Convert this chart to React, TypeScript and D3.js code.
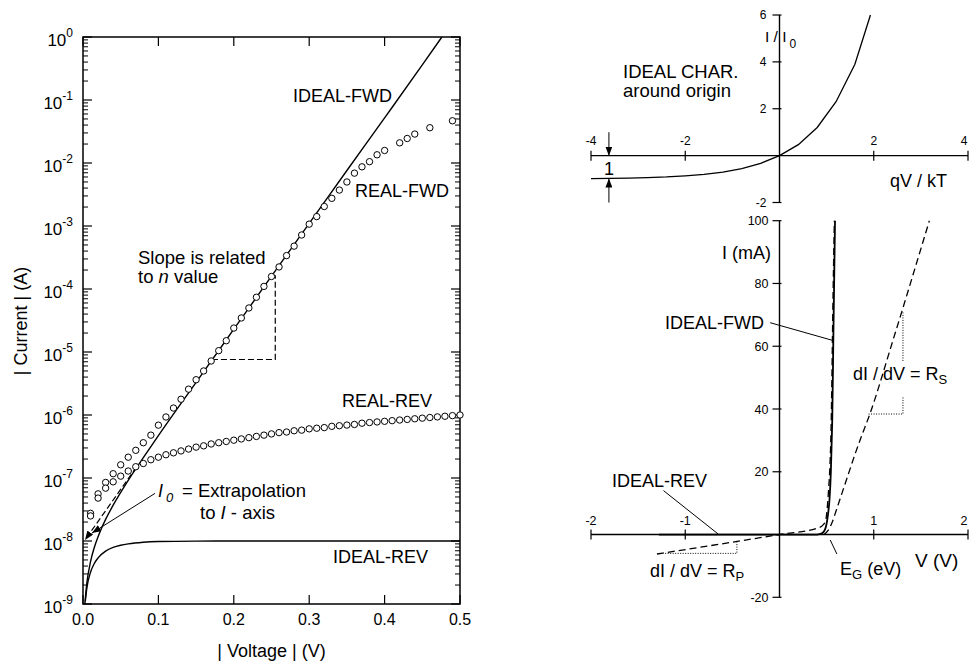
import React from 'react';
import * as d3 from 'd3';

// ---------- left panel: |Current| vs |Voltage| (log) ----------
const idealFwdV = [0.0025, 0.005, 0.01, 0.015, 0.02, 0.03, 0.04, 0.06, 0.08, 0.1, 0.15, 0.2, 0.25, 0.3, 0.35, 0.4, 0.45, 0.476];
const idealFwdI = [1.0e-9, 2.1e-9, 4.7e-9, 7.9e-9, 1.17e-8, 2.2e-8, 3.7e-8, 9.2e-8, 2.1e-7, 4.7e-7, 3.3e-6, 2.3e-5, 1.6e-4, 1.1e-3, 7.6e-3, 5.2e-2, 0.36, 1.0];

const idealRevV = [0.003, 0.005, 0.01, 0.015, 0.02, 0.03, 0.04, 0.05, 0.06, 0.08, 0.1, 0.15, 0.2, 0.3, 0.4, 0.5];
const idealRevI = [1.1e-9, 1.76e-9, 3.2e-9, 4.4e-9, 5.4e-9, 6.9e-9, 7.9e-9, 8.55e-9, 9.0e-9, 9.55e-9, 9.8e-9, 9.97e-9, 1e-8, 1e-8, 1e-8, 1e-8];

const realFwdV = [0.01, 0.02, 0.03, 0.04, 0.05, 0.06, 0.07, 0.08, 0.09, 0.10,
  0.11, 0.12, 0.13, 0.14, 0.15, 0.16, 0.17, 0.18, 0.19, 0.20,
  0.21, 0.22, 0.23, 0.24, 0.25, 0.26, 0.27, 0.28, 0.29, 0.30,
  0.31, 0.32, 0.33, 0.34, 0.35, 0.36, 0.37, 0.38, 0.39, 0.40,
  0.42, 0.43, 0.44, 0.46, 0.49];
const realFwdI = [2.75e-8, 5.6e-8, 8.5e-8, 1.17e-7, 1.62e-7, 2.14e-7, 2.75e-7, 3.63e-7, 4.79e-7, 6.9e-7,
  9.3e-7, 1.29e-6, 1.78e-6, 2.57e-6, 3.63e-6, 5.0e-6, 7.2e-6, 1.05e-5, 1.51e-5, 2.4e-5,
  3.47e-5, 5.0e-5, 7.4e-5, 1.1e-4, 1.58e-4, 2.24e-4, 3.39e-4, 4.79e-4, 7.2e-4, 1.07e-3,
  1.41e-3, 2.04e-3, 2.75e-3, 3.72e-3, 5.0e-3, 6.9e-3, 8.7e-3, 1.05e-2, 1.35e-2, 1.58e-2,
  2.09e-2, 2.45e-2, 2.88e-2, 3.63e-2, 4.68e-2];

const realRevV = [0.01, 0.02, 0.03, 0.04, 0.05, 0.06, 0.07, 0.08, 0.09, 0.10,
  0.11, 0.12, 0.13, 0.14, 0.15, 0.16, 0.17, 0.18, 0.19, 0.20,
  0.21, 0.22, 0.23, 0.24, 0.25, 0.26, 0.27, 0.28, 0.29, 0.30,
  0.31, 0.32, 0.33, 0.34, 0.35, 0.36, 0.37, 0.38, 0.39, 0.40,
  0.41, 0.42, 0.43, 0.44, 0.45, 0.46, 0.47, 0.48, 0.49, 0.50];
const realRevI = [2.5e-8, 4.8e-8, 6.9e-8, 8.7e-8, 1.07e-7, 1.29e-7, 1.51e-7, 1.7e-7, 1.95e-7, 2.14e-7,
  2.34e-7, 2.51e-7, 2.69e-7, 2.88e-7, 3.09e-7, 3.24e-7, 3.47e-7, 3.63e-7, 3.8e-7, 3.98e-7,
  4.17e-7, 4.37e-7, 4.57e-7, 4.79e-7, 5.01e-7, 5.25e-7, 5.37e-7, 5.62e-7, 5.75e-7, 6.03e-7,
  6.17e-7, 6.31e-7, 6.61e-7, 6.76e-7, 6.92e-7, 7.08e-7, 7.41e-7, 7.59e-7, 7.76e-7, 7.94e-7,
  8.13e-7, 8.32e-7, 8.51e-7, 8.71e-7, 8.91e-7, 9.12e-7, 9.33e-7, 9.55e-7, 9.77e-7, 1.0e-6];

const slopeTriangle = [[0.171, 7.6e-6], [0.255, 7.6e-6], [0.255, 1.66e-4]];
const extrapLine = [[0.071, 1.5e-7], [0.0027, 1.04e-8]];
const i0Leader = [[0.0955, 5.7e-8], [0.012, 1.34e-8]];

// ---------- top right: ideal characteristic around origin ----------
const charX = [-4, -3.6, -3.2, -2.8, -2.4, -2.0, -1.6, -1.2, -0.8, -0.4, 0, 0.4, 0.8, 1.2, 1.6, 1.93];
const charY = [-0.98, -0.97, -0.96, -0.94, -0.91, -0.86, -0.8, -0.7, -0.55, -0.33, 0, 0.47, 1.2, 2.3, 3.9, 6.0];
const topXTicks = [-4, -2, 2, 4];
const topYTicks = [-2, 2, 4, 6];
const unitArrowX = -3.62;
const unitArrows = [[1.0, 0], [-2.0, -0.98]];

// ---------- bottom right: linear I (mA) vs V (V) ----------
const idealLinV = [-1.28, 0.40, 0.45, 0.48, 0.50, 0.515, 0.53, 0.545, 0.554, 0.560, 0.571, 0.589];
const idealLinI = [0, 0, 0.4, 1.4, 3.5, 6.5, 11, 20, 30, 37, 62, 100];
const shuntV = [-1.30, 0, 0.40, 0.46, 0.49, 0.505, 0.52, 0.535, 0.548, 0.556, 0.565, 0.582];
const shuntI = [-6.2, 0, 2.0, 3.0, 4.5, 8, 14, 22, 35, 50, 70, 100];
const seriesV = [0.47, 0.52, 0.56, 0.60, 0.65, 0.70, 0.75, 0.80, 0.86, 0.96, 1.2, 1.59];
const seriesI = [0, 1.5, 4, 7.5, 12, 16.5, 21, 25.5, 30.5, 38.5, 61.5, 100];
const botXTicks = [-2, -1, 1, 2];
const botYTicks = [-20, 20, 40, 60, 80, 100];
const rsTriangle = [[0.945, 38.4], [1.31, 38.4], [1.31, 71]];
const rpTriangle = [[-1.213, -6.0], [-0.452, -6.0], [-0.452, -2.4]];
const fwdLeader = [[-0.099, 67.5], [0.571, 61.8]];
const revLeader = [[-1.231, 14.0], [-0.648, 0.1]];
const egLeader = [[0.538, -1.75], [0.609, -6.2]];

const FONT = '"Liberation Sans", Arial, Helvetica, sans-serif';

const App = () => {
  // left panel scales
  const xL = d3.scaleLinear().domain([0, 0.5]).range([83, 460]);
  const yL = d3.scaleLog().domain([1e-9, 1]).range([604, 37]);
  const lineL = d3.line<number[]>().x(d => xL(d[0])).y(d => yL(d[1]));
  const curveL = d3.line<number[]>().x(d => xL(d[0])).y(d => yL(d[1])).curve(d3.curveMonotoneX);

  const decades = d3.range(-9, 1).map(e => Math.pow(10, e));
  const minors = d3.range(-9, 0).flatMap(e => d3.range(2, 10).map(m => m * Math.pow(10, e)));
  const xTicksL = xL.ticks(5);

  // top right scales
  const xT = d3.scaleLinear().domain([-4, 4]).range([591, 968]);
  const yT = d3.scaleLinear().domain([-2, 6]).range([202.5, 15]);
  const lineT = d3.line<number[]>().x(d => xT(d[0])).y(d => yT(d[1]));

  // bottom right scales
  const xB = d3.scaleLinear().domain([-2, 2]).range([591, 968]);
  const yB = d3.scaleLinear().domain([-20, 100]).range([597.3, 220.7]);
  const lineB = d3.line<number[]>().x(d => xB(d[0])).y(d => yB(d[1]));
  const curveB = d3.line<number[]>().x(d => xB(d[0])).y(d => yB(d[1])).curve(d3.curveMonotoneX);

  // keep the edge tick labels inside the window
  const edgeX = (x: number) => Math.min(x, 964);

  const big = 18;
  return (
    <svg width={969} height={664} style={{ position: 'absolute', left: 0, top: 0, background: '#fff' }}
      fontFamily={FONT}>
      <defs>
        <marker id="arr" viewBox="0 0 9 7" refX="9" refY="3.5" markerWidth="9" markerHeight="7"
          markerUnits="userSpaceOnUse" orient="auto">
          <path d="M0,0 L9,3.5 L0,7 z" fill="#000" />
        </marker>
      </defs>

      {/* ===== left panel ===== */}
      <g>
        <rect x={xL(0)} y={yL(1)} width={xL(0.5) - xL(0)} height={yL(1e-9) - yL(1)}
          fill="none" stroke="#000" strokeWidth={1.5} />
        {decades.map(d => (
          <g key={'d' + d}>
            <line x1={xL(0)} x2={xL(0) + 9} y1={yL(d)} y2={yL(d)} stroke="#000" strokeWidth={1.2} />
            <line x1={xL(0.5)} x2={xL(0.5) - 9} y1={yL(d)} y2={yL(d)} stroke="#000" strokeWidth={1.2} />
            <text x={73} y={yL(d) + 9} textAnchor="end" fontSize={17}>10
              <tspan dy={-9} fontSize={12}>{Math.round(Math.log10(d))}</tspan>
            </text>
          </g>
        ))}
        {minors.map(d => (
          <g key={'m' + d}>
            <line x1={xL(0)} x2={xL(0) + 5} y1={yL(d)} y2={yL(d)} stroke="#000" strokeWidth={1} />
            <line x1={xL(0.5)} x2={xL(0.5) - 5} y1={yL(d)} y2={yL(d)} stroke="#000" strokeWidth={1} />
          </g>
        ))}
        {xTicksL.map(t => (
          <g key={'x' + t}>
            <line x1={xL(t)} x2={xL(t)} y1={yL(1e-9)} y2={yL(1e-9) - 9} stroke="#000" strokeWidth={1.2} />
            <line x1={xL(t)} x2={xL(t)} y1={yL(1)} y2={yL(1) + 9} stroke="#000" strokeWidth={1.2} />
            <text x={xL(t)} y={625} textAnchor="middle" fontSize={16}>{d3.format('.1f')(t)}</text>
          </g>
        ))}
        <text x={271.5} y={657} textAnchor="middle" fontSize={big}>| Voltage | (V)</text>
        <text transform="translate(27,321) rotate(-90)" textAnchor="middle" fontSize={big}>| Current | (A)</text>

        <path d={curveL(d3.zip(idealFwdV, idealFwdI)) || ''} fill="none" stroke="#000" strokeWidth={1.4} />
        <path d={curveL(d3.zip(idealRevV, idealRevI)) || ''} fill="none" stroke="#000" strokeWidth={1.4} />
        <path d={lineL(slopeTriangle) || ''} fill="none" stroke="#000" strokeWidth={1.2} strokeDasharray="6,3" />
        <path d={lineL(extrapLine) || ''} fill="none" stroke="#000" strokeWidth={1.2} strokeDasharray="6,3"
          markerEnd="url(#arr)" />
        <path d={lineL(i0Leader) || ''} fill="none" stroke="#000" strokeWidth={1} markerEnd="url(#arr)" />
        {d3.zip(realFwdV, realFwdI).map((d, i) => (
          <circle key={'f' + i} cx={xL(d[0])} cy={yL(d[1])} r={3.2} fill="#fff" stroke="#000" strokeWidth={1} />
        ))}
        {d3.zip(realRevV, realRevI).map((d, i) => (
          <circle key={'r' + i} cx={xL(d[0])} cy={yL(d[1])} r={3.2} fill="#fff" stroke="#000" strokeWidth={1} />
        ))}

        <text x={293} y={102} fontSize={big}>IDEAL-FWD</text>
        <text x={355} y={197} fontSize={big}>REAL-FWD</text>
        <text x={138} y={264} fontSize={18.5}>Slope is related</text>
        <text x={138} y={283} fontSize={18.5}>to <tspan fontStyle="italic">n</tspan> value</text>
        <text x={342} y={407} fontSize={big}>REAL-REV</text>
        <text x={158} y={497} fontSize={big} fontStyle="italic">I<tspan dx={3} dy={5} fontSize={13}>0</tspan></text>
        <text x={182} y={497} fontSize={18.5}>= Extrapolation</text>
        <text x={200} y={519} fontSize={18.5}>to <tspan fontStyle="italic">I</tspan> - axis</text>
        <text x={333} y={563} fontSize={big}>IDEAL-REV</text>
      </g>

      {/* ===== top right panel ===== */}
      <g>
        <line x1={xT(-4)} x2={xT(4)} y1={yT(0)} y2={yT(0)} stroke="#000" strokeWidth={1.4} />
        <line x1={xT(0)} x2={xT(0)} y1={yT(6)} y2={yT(-2)} stroke="#000" strokeWidth={1.4} />
        {topXTicks.map(t => (
          <g key={'tx' + t}>
            <line x1={xT(t)} x2={xT(t)} y1={yT(0) - 5} y2={yT(0) + 5} stroke="#000" strokeWidth={1.2} />
            <text x={edgeX(xT(t))} y={yT(0) - 11} textAnchor="middle" fontSize={12}>{t}</text>
          </g>
        ))}
        {topYTicks.map(t => (
          <g key={'ty' + t}>
            <line x1={xT(0) - 7} x2={xT(0) + 2} y1={yT(t)} y2={yT(t)} stroke="#000" strokeWidth={1.2} />
            <text x={xT(0) - 13} y={yT(t) + 4} textAnchor="end" fontSize={12}>{t}</text>
          </g>
        ))}
        <path d={lineT(d3.zip(charX, charY)) || ''} fill="none" stroke="#000" strokeWidth={1.3} />
        {unitArrows.map((a, i) => (
          <line key={'ua' + i} x1={xT(unitArrowX)} x2={xT(unitArrowX)} y1={yT(a[0])} y2={yT(a[1])}
            stroke="#000" strokeWidth={1} markerEnd="url(#arr)" />
        ))}
        <text x={xT(unitArrowX)} y={175} textAnchor="middle" fontSize={big}>1</text>
        <text x={765} y={42} fontSize={15.5}>I / I<tspan dx={3} dy={6} fontSize={12}>0</tspan></text>
        <text x={623} y={78} fontSize={18.5}>IDEAL CHAR.</text>
        <text x={623} y={97} fontSize={18.5}>around origin</text>
        <text x={890} y={187} fontSize={big}>qV / kT</text>
      </g>

      {/* ===== bottom right panel ===== */}
      <g>
        <line x1={xB(-2)} x2={xB(2)} y1={yB(0)} y2={yB(0)} stroke="#000" strokeWidth={1.4} />
        <line x1={xB(0)} x2={xB(0)} y1={yB(100)} y2={yB(-20)} stroke="#000" strokeWidth={1.4} />
        {botXTicks.map(t => (
          <g key={'bx' + t}>
            <line x1={xB(t)} x2={xB(t)} y1={yB(0) - 5} y2={yB(0) + 5} stroke="#000" strokeWidth={1.2} />
            <text x={edgeX(xB(t))} y={yB(0) - 10} textAnchor="middle" fontSize={12.5}>{t}</text>
          </g>
        ))}
        {botYTicks.map(t => (
          <g key={'by' + t}>
            <line x1={xB(0) - 7} x2={xB(0) + 2} y1={yB(t)} y2={yB(t)} stroke="#000" strokeWidth={1.2} />
            <text x={xB(0) - 11} y={yB(t) + 4.5} textAnchor="end" fontSize={12.5}>{t}</text>
          </g>
        ))}
        <path d={lineB(rsTriangle) || ''} fill="none" stroke="#000" strokeWidth={1} strokeDasharray="1,1.5" />
        <path d={lineB(rpTriangle) || ''} fill="none" stroke="#000" strokeWidth={1} strokeDasharray="1,1.5" />
        <path d={curveB(d3.zip(shuntV, shuntI)) || ''} fill="none" stroke="#000" strokeWidth={1.3} strokeDasharray="7,4" />
        <path d={curveB(d3.zip(seriesV, seriesI)) || ''} fill="none" stroke="#000" strokeWidth={1.3} strokeDasharray="7,4" />
        <path d={curveB(d3.zip(idealLinV, idealLinI)) || ''} fill="none" stroke="#000" strokeWidth={1.8} />
        <path d={lineB(fwdLeader) || ''} fill="none" stroke="#000" strokeWidth={1} />
        <path d={lineB(revLeader) || ''} fill="none" stroke="#000" strokeWidth={1} />
        <path d={lineB(egLeader) || ''} fill="none" stroke="#000" strokeWidth={1} />

        <text x={722} y={259} fontSize={big}>I (mA)</text>
        <text x={665} y={329} fontSize={big}>IDEAL-FWD</text>
        <rect x={893} y={361} width={20} height={36} fill="#fff" />
        <text x={853} y={380} fontSize={big}>dI / dV = R<tspan dy={4} fontSize={13}>S</tspan></text>
        <text x={612} y={487} fontSize={big}>IDEAL-REV</text>
        <text x={650} y={577} fontSize={big}>dI / dV = R<tspan dy={4} fontSize={13}>P</tspan></text>
        <text x={840} y={575} fontSize={big}>E<tspan dy={4} fontSize={13}>G</tspan><tspan dy={-4}> (eV)</tspan></text>
        <text x={915} y={567} fontSize={19}>V (V)</text>
      </g>
    </svg>
  );
};

export default App;
